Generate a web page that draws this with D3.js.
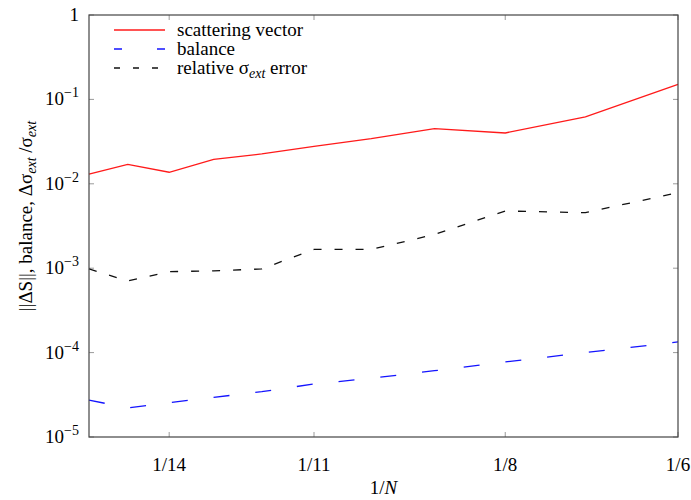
<!DOCTYPE html>
<html>
<head>
<meta charset="utf-8">
<script src="https://cdn.jsdelivr.net/npm/d3@7"></script>
<style>
  body { margin: 0; background: #fff; }
</style>
</head>
<body>
<div id="chart"></div>
<script>
// N values, x axis shows 1/N on a log scale
const nValues = [16, 15, 14, 13, 12, 11, 10, 9, 8, 7, 6]
const scatteringVector = [0.0130, 0.0170, 0.0137, 0.0195, 0.0226, 0.0277, 0.0342, 0.0450, 0.0400, 0.0619, 0.151]
const balance = [2.74e-5, 2.21e-5, 2.55e-5, 2.95e-5, 3.44e-5, 4.25e-5, 4.96e-5, 6.1e-5, 7.74e-5, 1.0e-4, 1.34e-4]
const relativeError = [9.8e-4, 7.05e-4, 9.1e-4, 9.3e-4, 9.8e-4, 1.67e-3, 1.67e-3, 2.51e-3, 4.76e-3, 4.55e-3, 7.85e-3]
const xTickN = [14, 11, 8, 6]
const yTickExp = [0, -1, -2, -3, -4, -5]

const width = 691
const height = 500
const margin = { top: 15, right: 13, bottom: 63, left: 89 }
const fontSize = 19
const subSize = 14

const series = [
  { id: 'scattering', label: 'scattering vector', values: scatteringVector, color: '#ff1a1a', dash: null, legendDash: null },
  { id: 'balance', label: 'balance', values: balance, color: '#1414ff', dash: '16,26', legendDash: '8,35' },
  { id: 'relative', label: 'relative σ', sub: 'ext', after: ' error', values: relativeError, color: '#111', dash: '8,13', legendDash: '6,13' }
]

const svg = d3.select('#chart')
  .append('svg')
  .attr('width', width)
  .attr('height', height)
  .attr('viewBox', [0, 0, width, height].join(' '))
  .attr('font-family', '"Liberation Serif", "Times New Roman", serif')

const x = d3.scaleLog()
  .domain([1 / 16, 1 / 6])
  .range([margin.left, width - margin.right])

const y = d3.scaleLog()
  .domain([1e-5, 1])
  .range([height - margin.bottom, margin.top])

const x0 = margin.left, x1 = width - margin.right
const y0 = height - margin.bottom, y1 = margin.top
const tickLen = 5

// ticks, inward on all four sides
const ticks = svg.append('g').attr('class', 'ticks').attr('stroke', '#9a9a9a').attr('stroke-width', 1)
xTickN.forEach(n => {
  const px = x(1 / n)
  ticks.append('line').attr('x1', px).attr('x2', px).attr('y1', y0).attr('y2', y0 - tickLen)
  ticks.append('line').attr('x1', px).attr('x2', px).attr('y1', y1).attr('y2', y1 + tickLen)
})
yTickExp.forEach(e => {
  const py = y(Math.pow(10, e))
  ticks.append('line').attr('x1', x0).attr('x2', x0 + tickLen).attr('y1', py).attr('y2', py)
  ticks.append('line').attr('x1', x1).attr('x2', x1 - tickLen).attr('y1', py).attr('y2', py)
})

// tick labels
const labels = svg.append('g').attr('class', 'labels').attr('font-size', fontSize).attr('fill', '#000')
labels.selectAll('text.xt')
  .data(xTickN)
  .join('text')
  .attr('class', 'xt')
  .attr('x', n => x(1 / n))
  .attr('y', y0 + 34)
  .attr('text-anchor', 'middle')
  .text(n => `1/${n}`)

yTickExp.forEach(e => {
  const t = labels.append('text')
    .attr('x', x0 - 10)
    .attr('y', y(Math.pow(10, e)) + 6)
    .attr('text-anchor', 'end')
  if (e === 0) {
    t.text('1')
  } else {
    t.append('tspan').text('10')
    t.append('tspan').attr('dy', -8).attr('font-size', subSize).text('−' + Math.abs(e))
  }
})

// axis titles
const xTitle = svg.append('text')
  .attr('x', (x0 + x1) / 2)
  .attr('y', height - 6)
  .attr('text-anchor', 'middle')
  .attr('font-size', fontSize)
xTitle.append('tspan').text('1/')
xTitle.append('tspan').attr('font-style', 'italic').text('N')

const yTitle = svg.append('text')
  .attr('transform', `translate(32, ${(y0 + y1) / 2 - 10}) rotate(-90)`)
  .attr('text-anchor', 'middle')
  .attr('font-size', fontSize)
yTitle.append('tspan').text('||ΔS||, balance, Δσ')
yTitle.append('tspan').attr('font-style', 'italic').attr('font-size', subSize).attr('dy', 4).text('ext')
yTitle.append('tspan').attr('dy', -4).text(' /σ')
yTitle.append('tspan').attr('font-style', 'italic').attr('font-size', subSize).attr('dy', 4).text('ext')

// lines
const line = d3.line()
  .x((v, i) => x(1 / nValues[i]))
  .y(v => y(v))

svg.append('g')
  .attr('class', 'lines')
  .attr('fill', 'none')
  .selectAll('path')
  .data(series)
  .join('path')
  .attr('stroke', s => s.color)
  .attr('stroke-width', 1.3)
  .attr('stroke-dasharray', s => s.dash)
  .attr('d', s => line(s.values))

// frame
svg.append('rect')
  .attr('x', x0)
  .attr('y', y1)
  .attr('width', x1 - x0)
  .attr('height', y0 - y1)
  .attr('fill', 'none')
  .attr('stroke', '#444')
  .attr('stroke-width', 1.2)

// legend
const legend = svg.append('g').attr('class', 'legend').attr('font-size', fontSize)
const row = legend.selectAll('g')
  .data(series)
  .join('g')
  .attr('transform', (s, i) => `translate(0, ${30 + i * 19})`)

row.append('line')
  .attr('x1', 114)
  .attr('x2', 165)
  .attr('stroke', s => s.color)
  .attr('stroke-width', 1.3)
  .attr('stroke-dasharray', s => s.legendDash)

row.append('text')
  .attr('x', 177)
  .attr('y', 6)
  .each(function (s) {
    const t = d3.select(this)
    t.append('tspan').text(s.label)
    if (s.sub) {
      t.append('tspan').attr('font-style', 'italic').attr('font-size', subSize).attr('dy', 4).text(s.sub)
      t.append('tspan').attr('dy', -4).text(s.after)
    }
  })
</script>
</body>
</html>
